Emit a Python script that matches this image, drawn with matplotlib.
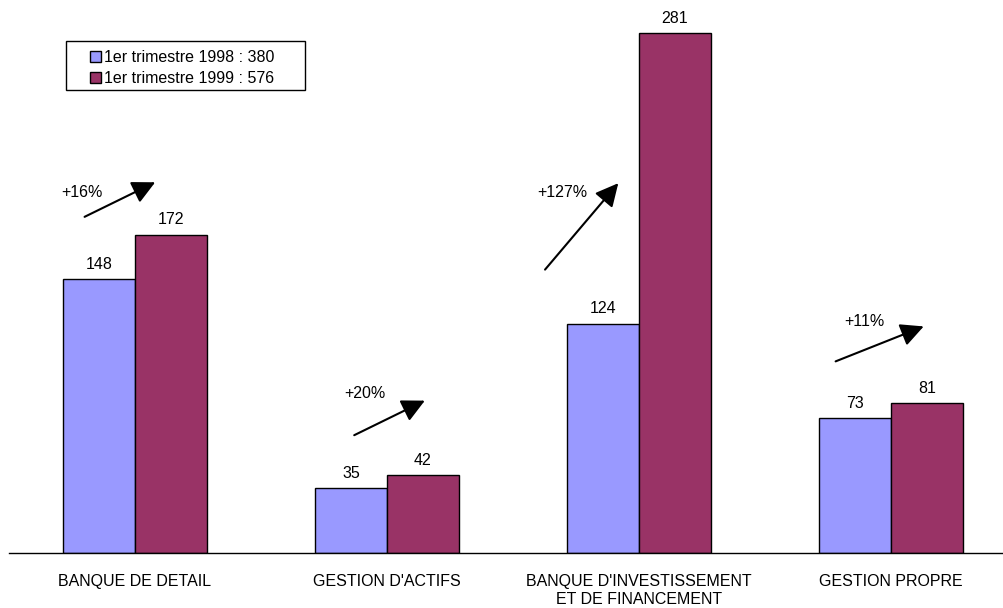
import numpy as np
import matplotlib.pyplot as plt
from matplotlib.patches import Rectangle

plt.rcParams['font.family'] = ['Liberation Sans', 'DejaVu Sans']

categories = ['BANQUE DE DETAIL', "GESTION D'ACTIFS",
              "BANQUE D'INVESTISSEMENT\nET DE FINANCEMENT", 'GESTION PROPRE']
q1_1998 = [148, 35, 124, 73]
q1_1999 = [172, 42, 281, 81]
labels = ['1er trimestre 1998 : 380', '1er trimestre 1999 : 576']
growth = ['+16%', '+20%', '+127%', '+11%']

# arrows: (x0, y0, x1, y1) relative to group centre, data units
arrows = [(-0.21, 181, 0.09, 201),
          (-0.14, 63, 0.16, 83),
          (-0.38, 152, -0.075, 201),
          (-0.23, 103, 0.14, 123)]
growth_pos = [(-0.21, 195), (-0.087, 86), (-0.306, 195), (-0.107, 125)]

fs = 11.5
W, H = 1004, 608

fig = plt.figure(figsize=(W/100, H/100), dpi=100)
ax = fig.add_axes([9/W, 55/H, 995/W, 553/H])

x = np.arange(len(categories))
w = 72/252
b1 = ax.bar(x - w/2, q1_1998, w, color='#9999FF', edgecolor='black', linewidth=1, label=labels[0])
b2 = ax.bar(x + w/2, q1_1999, w, color='#993366', edgecolor='black', linewidth=1, label=labels[1])

for bars in (b1, b2):
    for r in bars:
        ax.text(r.get_x() + r.get_width()/2, r.get_height() + 4, str(int(r.get_height())),
                ha='center', va='bottom', fontsize=fs)

for i, (x0, y0, x1, y1) in enumerate(arrows):
    ax.annotate('', xy=(i + x1, y1), xytext=(i + x0, y0),
                arrowprops=dict(arrowstyle='-|>,head_length=1.4,head_width=0.7',
                                color='black', lw=1.5))
    gx, gy = growth_pos[i]
    ax.text(i + gx, gy, growth[i], ha='center', va='center', fontsize=fs)

ax.set_xlim(-0.5, (W - 135)/252)
ax.set_ylim(0, 553/1.8505)
for s in ['top', 'right', 'left']:
    ax.spines[s].set_visible(False)
ax.spines['bottom'].set_linewidth(1)
ax.set_yticks([])
ax.set_xticks(x)
ax.set_xticklabels(categories, fontsize=fs, linespacing=1.25)
ax.tick_params(axis='x', length=0, pad=15)

# legend box drawn by hand, Excel style
fig.patches.append(Rectangle((66/W, 1 - 90/H), 239/W, 49/H, transform=fig.transFigure,
                             facecolor='white', edgecolor='black', linewidth=1, zorder=5))
leg = fig.legend(loc='upper left', bbox_to_anchor=(90/W, 1 - 50/H), fontsize=fs,
                 frameon=False, handlelength=0.7, handleheight=0.7, handletextpad=0.2,
                 borderpad=0, labelspacing=0.4, borderaxespad=0)
leg.set_zorder(6)

fig.savefig('out.png', dpi=100)
